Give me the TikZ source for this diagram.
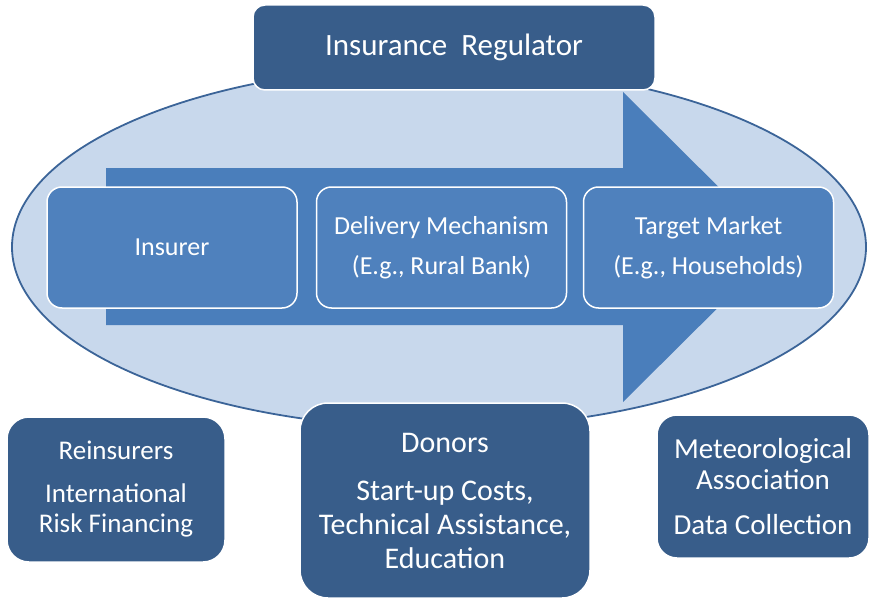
\documentclass[tikz,border=0pt]{standalone}
\usepackage{fontspec}
\setmainfont{Carlito}

\definecolor{regblue}{HTML}{385D8A}
\definecolor{boxblue}{HTML}{4F81BD}
\definecolor{arrowblue}{HTML}{4A7EBB}
\definecolor{ovalfill}{HTML}{C8D8EC}
\definecolor{ovalline}{HTML}{3B6498}

\begin{document}
\begin{tikzpicture}[x=1pt, y=-1pt,
  darkbox/.style={fill=regblue, draw=white, line width=1.5pt, text=white, align=center, inner sep=0pt},
  chainbox/.style={fill=boxblue, draw=white, line width=1.5pt, text=white, align=center, inner sep=0pt,
    minimum width=250pt, minimum height=121pt, rounded corners=15pt,
    font=\fontsize{26}{30}\selectfont}]

\useasboundingbox (0,0) rectangle (870,599);

% the oval and the big arrow behind the chain
\draw[fill=ovalfill, draw=ovalline, line width=1.8pt] (439,247) ellipse [x radius=427pt, y radius=181pt];
\fill[arrowblue] (106,168) -- (623,168) -- (623,92) -- (779,247) -- (623,402) -- (623,325) -- (106,325) -- cycle;

% the chain
\node[chainbox] (insurer) at (172,247.5) {Insurer};
\node[chainbox] (delivery) at (441.5,247.5) {Delivery Mechanism\\[10pt](E.g., Rural Bank)};
\node[chainbox] (market) at (708.5,247.5) {Target Market\\[10pt](E.g., Households)};

\node[darkbox, minimum width=402pt, minimum height=85pt, rounded corners=12pt,
  font=\fontsize{31}{34}\selectfont] (regulator) at (454,47.5) {Insurance\ \ Regulator};

% supporting parties
\node[darkbox, minimum width=218pt, minimum height=145pt, rounded corners=22pt,
  font=\fontsize{27}{30}\selectfont] (reinsurers) at (116,489.5)
  {Reinsurers\\[13pt]International\\Risk Financing};
\node[darkbox, minimum width=290pt, minimum height=195pt, rounded corners=28pt,
  font=\fontsize{30}{34}\selectfont] (donors) at (445,500.5)
  {Donors\\[14pt]Start-up Costs,\\Technical Assistance,\\Education};
\node[darkbox, minimum width=212pt, minimum height=143pt, rounded corners=20pt,
  font=\fontsize{29}{31}\selectfont] (meteo) at (763,486.5)
  {Meteorological\\Association\\[14pt]Data Collection};
\end{tikzpicture}
\end{document}
